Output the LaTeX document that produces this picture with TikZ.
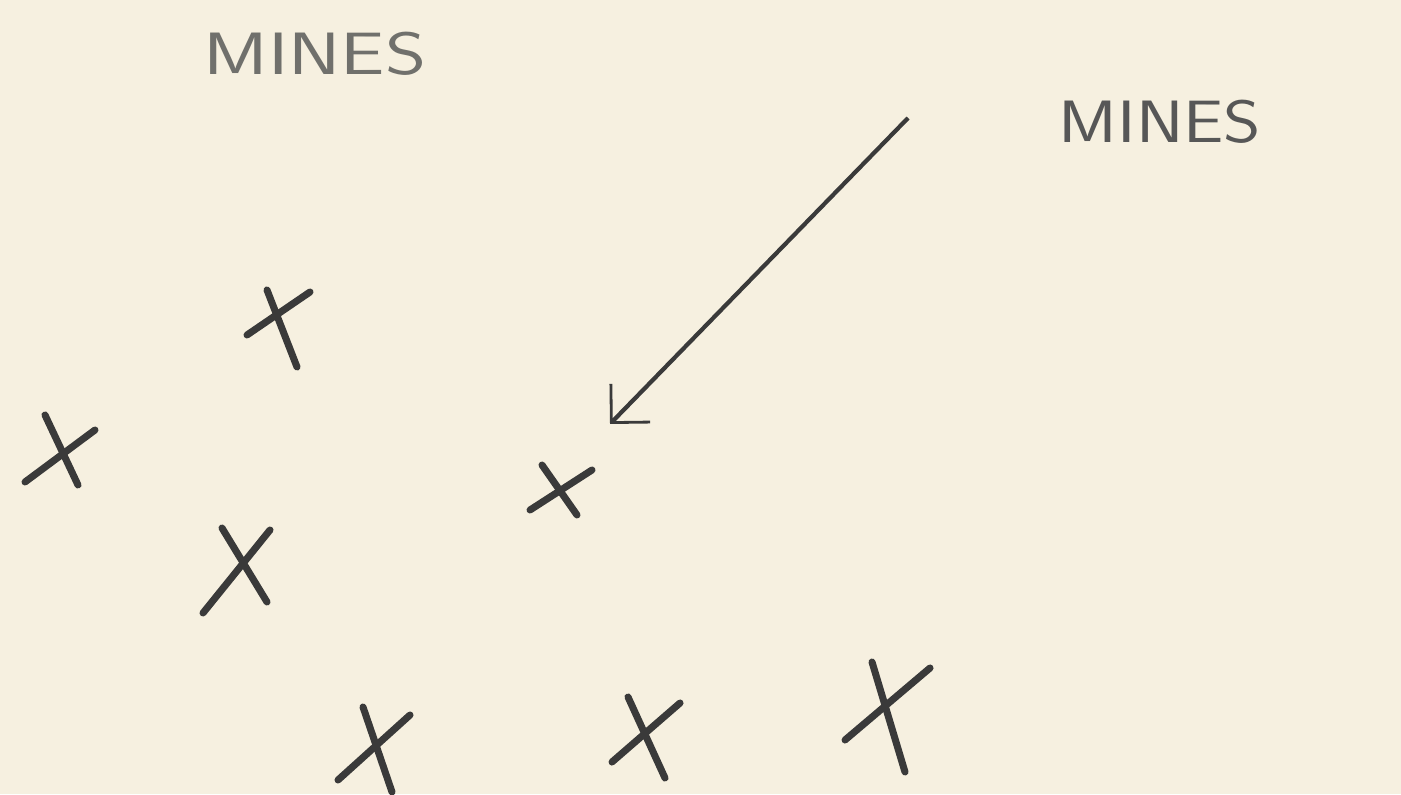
\documentclass[tikz,border=0pt]{standalone}
\usepackage{xcolor}
\usepackage{tikz}
\usetikzlibrary{positioning,calc,arrows.meta}

\definecolor{paper}{RGB}{246,240,224}
\definecolor{pencil}{RGB}{58,58,58}
\definecolor{faintpencil}{RGB}{112,112,108}

\tikzset{
  minestroke/.style={pencil, line width=2pt, line cap=round},
  minelabel/.style={font=\sffamily\fontsize{17}{20}\selectfont, inner sep=0pt},
  pointer/.style={pencil, line width=1.2pt, -{Straight Barb[angle=90:11pt, line width=0.8pt]}}
}

\begin{document}
\begin{tikzpicture}
  % Paper background
  \fill[paper] (0,0) rectangle (14.01,7.94);
  \useasboundingbox (0,0) rectangle (14.01,7.94);

  % Labels
  \node[minelabel, text=faintpencil, xscale=1.32] (minesA) at (3.15,7.40) {MINES};
  \node[minelabel, text=pencil!85, xscale=1.2] (minesB) at (11.60,6.72) {MINES};

  % Crosses marking the mines (two strokes each)
  \foreach \ax/\ay/\bx/\by/\cx/\cy/\dx/\dy in {
      2.47/4.59/3.10/5.02/2.67/5.04/2.97/4.27,
      0.25/3.12/0.95/3.64/0.45/3.79/0.78/3.09,
      2.03/1.81/2.70/2.64/2.22/2.66/2.67/1.92,
      5.30/2.84/5.92/3.24/5.42/3.29/5.77/2.79,
      3.38/0.14/4.10/0.79/3.63/0.87/3.92/0.02,
      6.12/0.32/6.80/0.91/6.28/0.97/6.65/0.16,
      8.45/0.54/9.30/1.26/8.72/1.32/9.05/0.22} {
    \draw[minestroke] (\ax,\ay) -- (\bx,\by);
    \draw[minestroke] (\cx,\cy) -- (\dx,\dy);
  }

  % Arrow pointing at the mine
  \coordinate (tail) at (9.08,6.76);
  \coordinate (tip) at (6.10,3.70);
  \draw[pointer] (tail) -- (tip);
\end{tikzpicture}
\end{document}
